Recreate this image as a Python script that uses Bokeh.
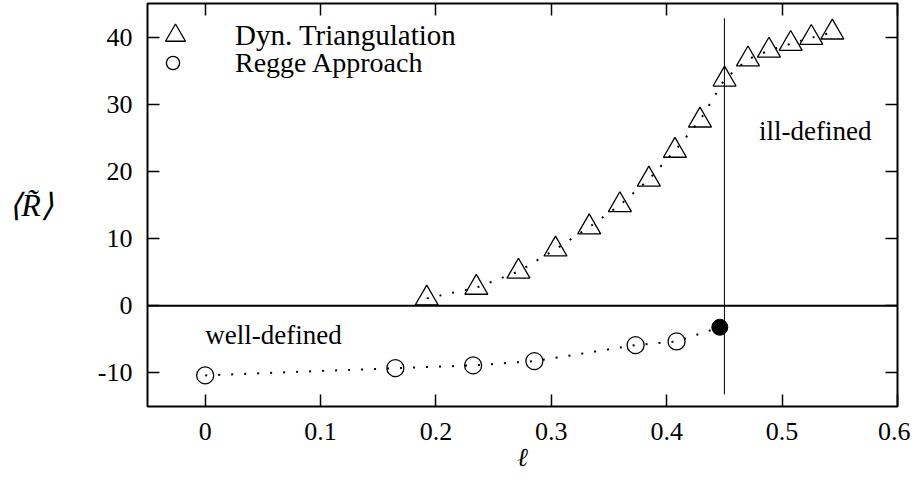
from bokeh.plotting import figure
from bokeh.models import (Range1d, LinearAxis, FixedTicker, Span, Label, Legend,
                          LegendItem, CustomJSTickFormatter)
from bokeh.embed import file_html
from bokeh.resources import INLINE

# ---- data ----
tri_x = [0.192, 0.235, 0.2715, 0.3036, 0.3328, 0.3594, 0.3845, 0.4071, 0.4288,
         0.4501, 0.4704, 0.4886, 0.5074, 0.5253, 0.5435]
tri_y = [1.1, 2.7, 5.1, 8.4, 11.7, 15.0, 18.8, 23.1, 27.6,
         33.7, 36.7, 38.0, 39.0, 39.9, 40.7]
regge_x = [0.0, 0.1648, 0.2322, 0.2853, 0.373, 0.4085]
regge_y = [-10.37, -9.29, -8.88, -8.24, -5.86, -5.31]
end_x = [0.446]
end_y = [-3.2]
boundary_x = [0.45, 0.45]
boundary_y = [-13.2, 42.8]
zero_level = 0
x_ticks = [0, 0.1, 0.2, 0.3, 0.4, 0.5, 0.6]
y_ticks = [-10, 0, 10, 20, 30, 40]

SERIF = "Liberation Serif"

p = figure(width=910, height=480, output_backend="svg", toolbar_location=None,
           x_range=Range1d(-0.05, 0.6), y_range=Range1d(-15, 45),
           min_border_left=147, min_border_right=13, min_border_top=3,
           min_border_bottom=74)
p.background_fill_color = "white"
p.border_fill_color = "white"
p.outline_line_color = "black"
p.outline_line_width = 2
p.xgrid.visible = False
p.ygrid.visible = False

fmt = CustomJSTickFormatter(code="return tick.toString()")


def style(ax, labels=True):
    ax.axis_line_color = None
    ax.major_tick_in = 12
    ax.major_tick_out = 0
    ax.major_tick_line_width = 1.5
    ax.major_tick_line_color = "black"
    ax.minor_tick_line_color = None
    if labels:
        ax.major_label_text_font = SERIF
        ax.major_label_text_font_size = "26px"
        ax.major_label_text_color = "black"
    else:
        ax.major_label_standoff = 0
        ax.major_label_text_font_size = "0px"


xa = p.xaxis[0]
xa.ticker = FixedTicker(ticks=x_ticks)
xa.formatter = fmt
style(xa)
xa.major_label_standoff = 16
xa.axis_label = "ℓ"
xa.axis_label_text_font = SERIF
xa.axis_label_text_font_style = "italic"
xa.axis_label_text_font_size = "26px"
xa.axis_label_text_color = "black"
xa.axis_label_standoff = 0

ya = p.yaxis[0]
ya.ticker = FixedTicker(ticks=y_ticks)
ya.formatter = fmt
style(ya)
ya.major_label_standoff = 15
ya.axis_label = "⟨R̃⟩"
ya.axis_label_text_font = SERIF
ya.axis_label_text_font_style = "italic"
ya.axis_label_text_font_size = "32px"
ya.axis_label_text_color = "black"
ya.axis_label_standoff = 42
try:
    ya.axis_label_orientation = "horizontal"
except Exception:
    pass

empty = CustomJSTickFormatter(code="return ''")
ra = LinearAxis(ticker=FixedTicker(ticks=y_ticks), formatter=empty)
style(ra, labels=False)
p.add_layout(ra, "right")
ta = LinearAxis(ticker=FixedTicker(ticks=x_ticks), formatter=empty)
style(ta, labels=False)
p.add_layout(ta, "above")

# zero line and boundary
p.add_layout(Span(location=zero_level, dimension="width", line_color="black", line_width=2))
p.line(boundary_x, boundary_y, line_color="black", line_width=1)

# dotted connecting lines
p.line(tri_x, tri_y, line_color="black", line_width=2, line_dash="2 11")
p.line(regge_x + end_x, regge_y + end_y, line_color="black", line_width=2, line_dash="2 11")

tri = p.scatter(tri_x, tri_y, marker="triangle", size=23, fill_color=None,
                line_color="black", line_width=1.3)
circ = p.scatter(regge_x, regge_y, marker="circle", size=17, fill_color=None,
                 line_color="black", line_width=1.3)
p.scatter(end_x, end_y, marker="circle", size=16, fill_color="black", line_color="black")


def make_legend(label, r, box, loc, standoff, fs):
    lg = Legend(items=[LegendItem(label=label, renderers=[r])], location=loc,
                glyph_width=box, glyph_height=box, label_standoff=standoff,
                padding=0, margin=0, spacing=0, border_line_color=None,
                background_fill_alpha=0, label_text_font=SERIF,
                label_text_font_size=fs, label_text_color="black")
    p.add_layout(lg)


make_legend("Dyn. Triangulation", tri, 50, (3, 346), 35, "29px")
make_legend("Regge Approach", circ, 33, (9, 327), 46, "28px")

txt = dict(text_font=SERIF, text_font_size="27px", text_color="black",
           text_baseline="middle")
p.add_layout(Label(x=0.0, y=-4.3, text="well-defined", text_align="left", **txt))
p.add_layout(Label(x=0.48, y=26.0, text="ill-defined", text_align="left", **txt))

open("out.html", "w").write(file_html(p, INLINE))
